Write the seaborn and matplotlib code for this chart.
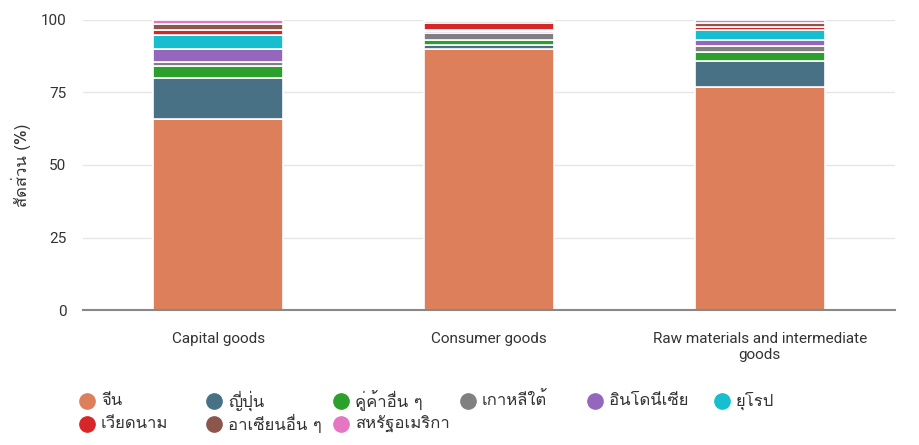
import matplotlib
matplotlib.use("Agg")
import matplotlib.pyplot as plt
from matplotlib import font_manager
from matplotlib.ft2font import FT2Font
from matplotlib.lines import Line2D
import seaborn as sns
import numpy as np

categories = ["Capital goods", "Consumer goods", "Raw materials and intermediate\ngoods"]
series_names = ["จีน", "ญี่ปุ่น", "คู่ค้าอื่น ๆ", "เกาหลีใต้", "อินโดนีเซีย", "ยุโรป",
                "เวียดนาม", "อาเซียนอื่น ๆ", "สหรัฐอเมริกา"]
china = [66.0, 90.0, 77.0]
japan = [14.0, 1.5, 8.7]
others = [4.0, 1.5, 3.2]
korea = [1.4, 2.5, 2.3]
indonesia = [4.6, 0.8, 2.0]
europe = [4.7, 0.4, 3.2]
vietnam = [1.8, 2.2, 1.1]
asean = [2.0, 0.6, 1.5]
usa = [1.5, 0.5, 1.0]
series_values = [china, japan, others, korea, indonesia, europe, vietnam, asean, usa]
colors = ["#dc7f5a", "#487186", "#2ca02c", "#808080", "#9467bd", "#17becf",
          "#d62728", "#8c564b", "#e377c2"]
y_ticks = [0, 25, 50, 75, 100]
y_label = "สัดส่วน (%)"

# find a font with Thai glyphs
thai_font = None
for f in font_manager.fontManager.ttflist:
    try:
        cm = FT2Font(f.fname).get_charmap()
        if 0x0E08 in cm and 0x0E35 in cm:
            thai_font = f.name
            break
    except Exception:
        pass
names = {f.name for f in font_manager.fontManager.ttflist}
latin = "Roboto" if "Roboto" in names else "DejaVu Sans"

sns.set_theme(style="white")
fam = [latin] + ([thai_font] if thai_font else []) + ["DejaVu Sans"]
plt.rcParams["font.family"] = fam
thai_fam = ([thai_font] if thai_font else []) + [latin, "DejaVu Sans"]

fig = plt.figure(figsize=(9.19, 4.45), dpi=100)
ax = fig.add_axes([83/919, 135/445, 812/919, 290/445])

bottom = np.zeros(len(categories))
for name, vals, c in zip(series_names, series_values, colors):
    sns.barplot(x=categories, y=vals, bottom=bottom, color=c, width=0.48,
                edgecolor="white", linewidth=1.2, ax=ax, saturation=1)
    bottom = bottom + np.array(vals)

ax.set_xlim(-0.5, 2.5)
ax.set_ylim(0, 100)
ax.set_yticks(y_ticks)
ax.set_yticklabels([str(t) for t in y_ticks], fontsize=11, color="#333333")
ax.tick_params(axis="x", labelsize=11, labelcolor="#333333", length=0, pad=16)
ax.tick_params(axis="y", length=0, pad=12)
ax.grid(axis="y", color="#e6e6e6", linewidth=1)
ax.set_axisbelow(True)
for s in ["left", "right", "top"]:
    ax.spines[s].set_visible(False)
ax.spines["bottom"].set_color("#888888")
ax.spines["bottom"].set_linewidth(1.5)
ax.set_ylabel(y_label, fontsize=12, color="#333333", family=thai_fam, labelpad=7)
ax.set_xlabel("")

for i, (name, c) in enumerate(zip(series_names, colors)):
    col, row = i % 6, i // 6
    x = 87 + col * 127
    y = 401 + row * 23
    fig.add_artist(Line2D([x/919], [1 - y/445], transform=fig.transFigure,
                          marker="o", markersize=11, color=c, linestyle="none"))
    fig.text((x + 14)/919, 1 - y/445, name, fontsize=12, color="#333333",
             va="center", ha="left", family=thai_fam)

fig.savefig("out.png", dpi=100)
